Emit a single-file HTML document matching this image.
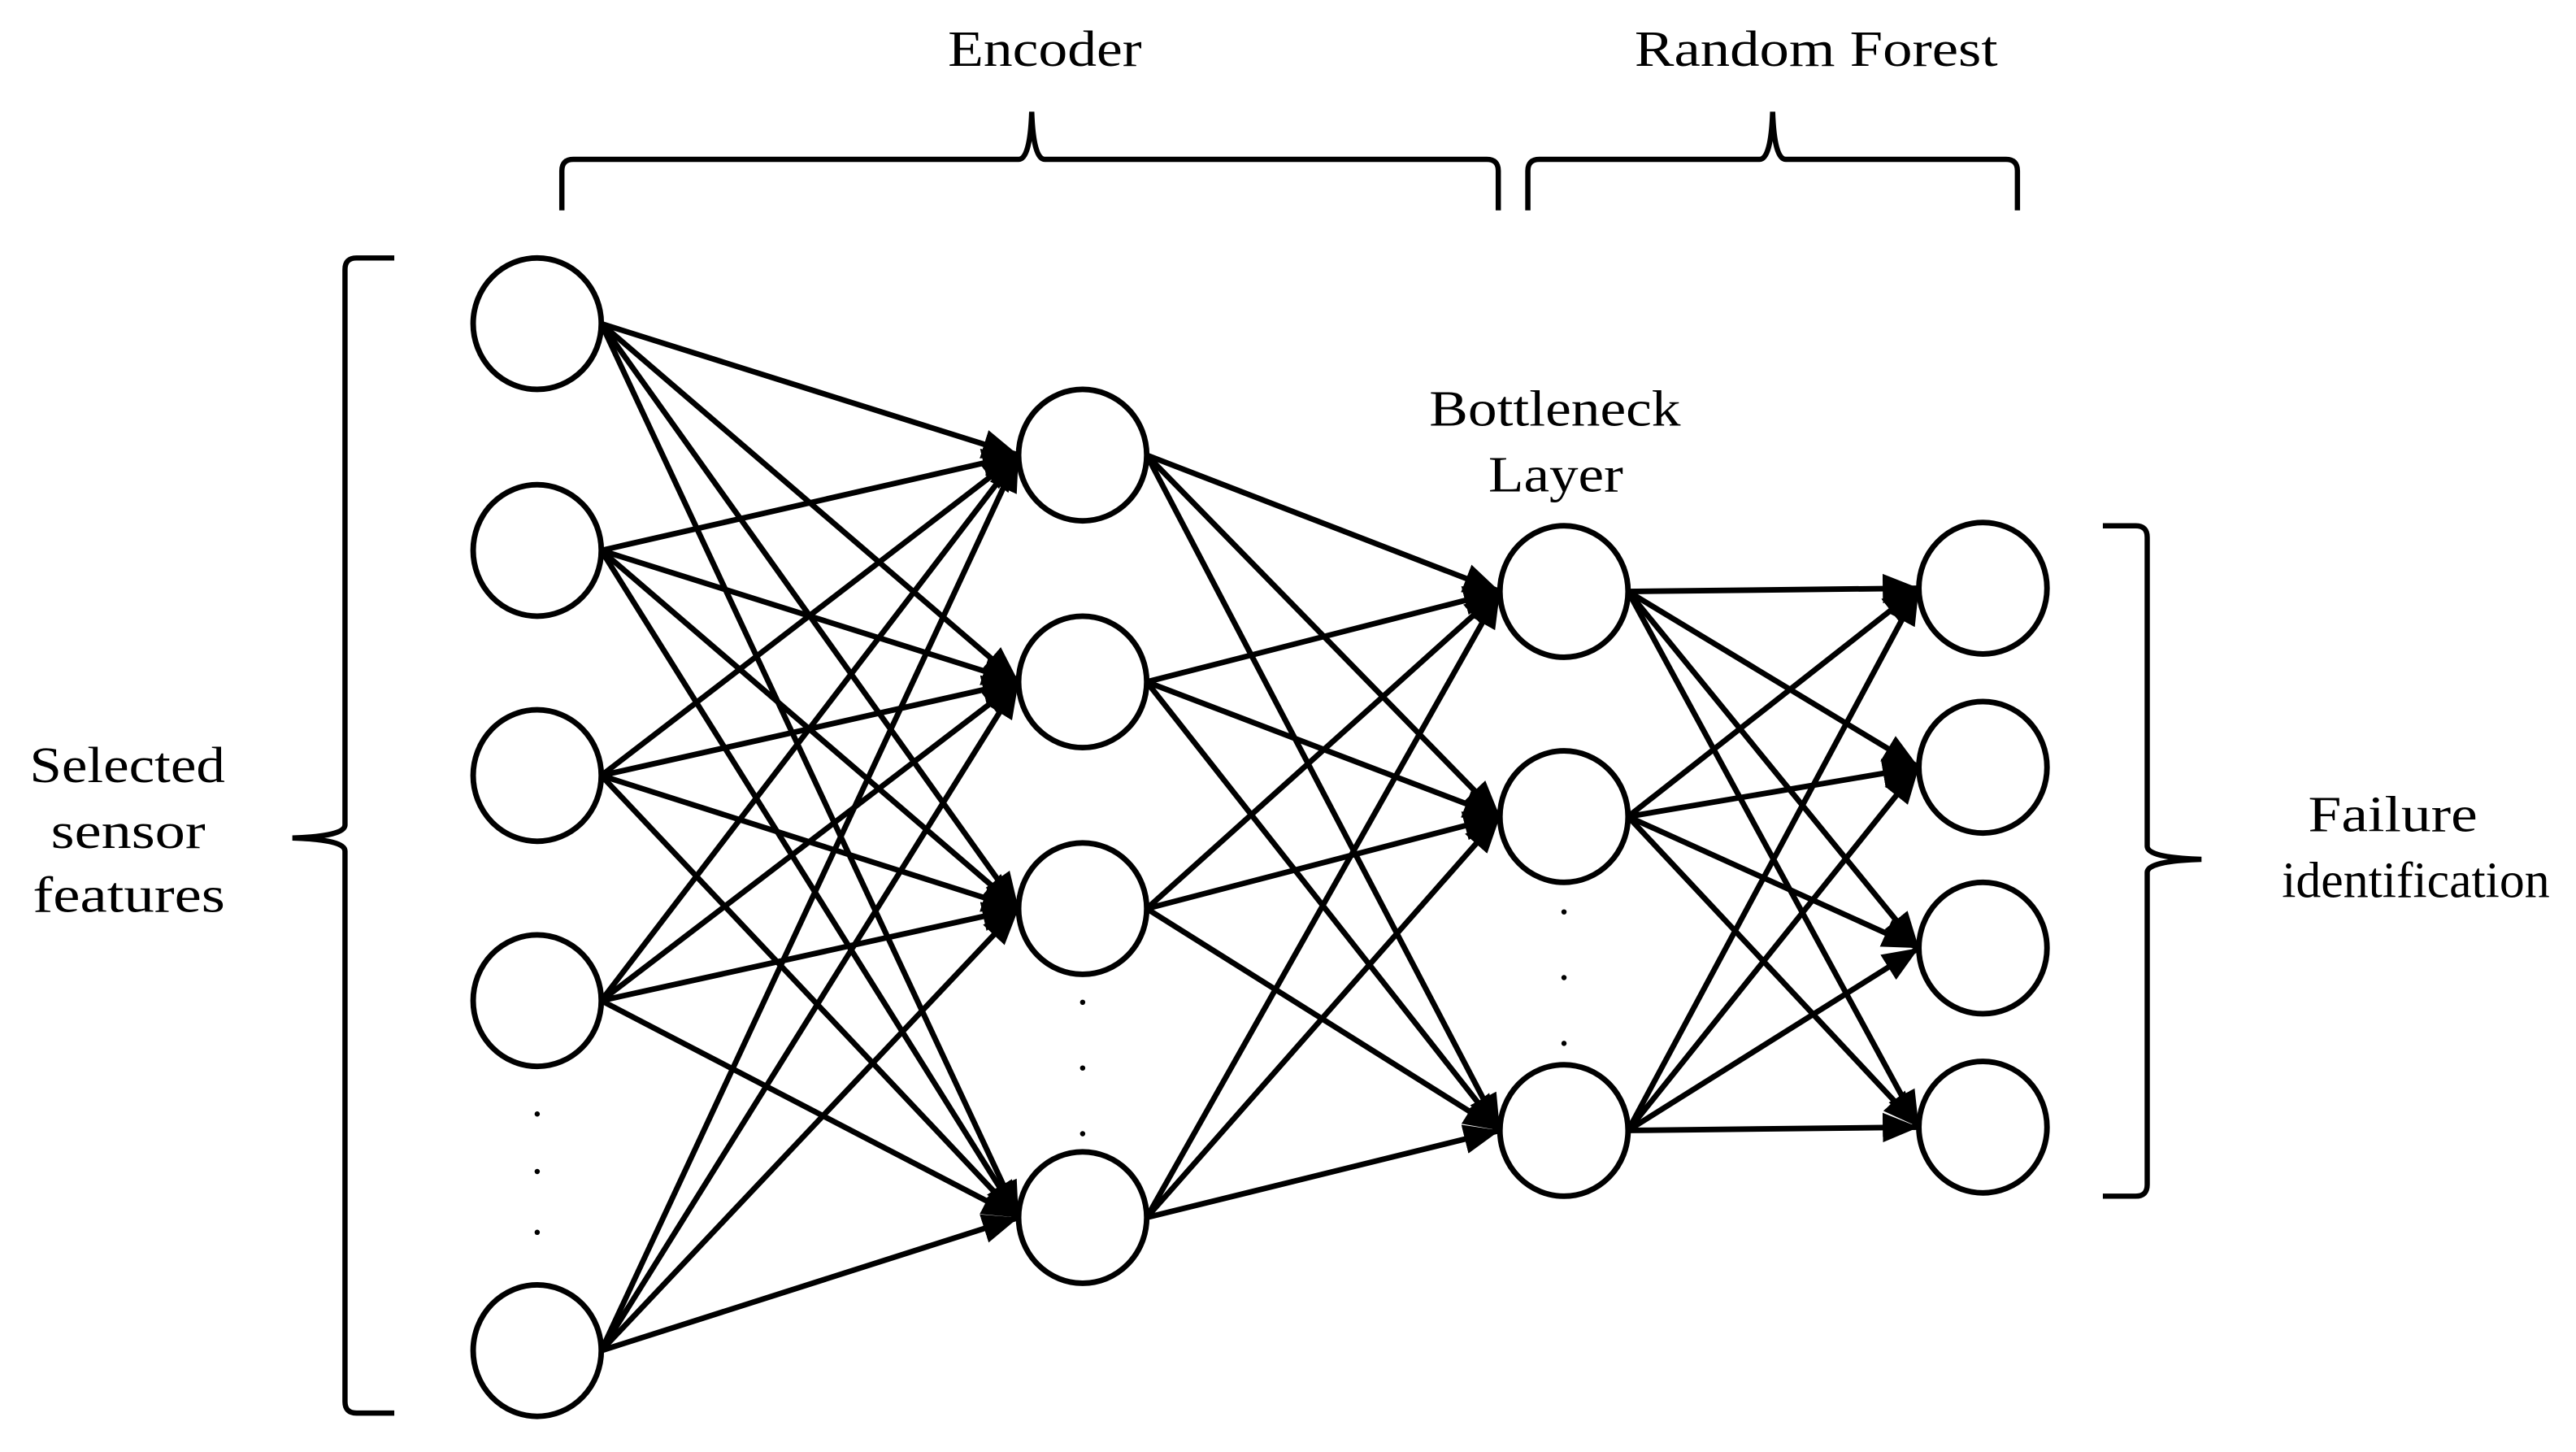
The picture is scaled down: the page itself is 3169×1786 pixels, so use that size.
<!DOCTYPE html>
<html><head><meta charset="utf-8"><style>
html,body{margin:0;padding:0;background:#fff;}
svg{display:block;}
text{font-family:"Liberation Serif",serif;font-size:31px;fill:#000;}
</style></head><body>
<svg width="3169" height="1786" viewBox="0 0 1568 883.7" preserveAspectRatio="none" xmlns="http://www.w3.org/2000/svg">
<defs>
<marker id="a" markerUnits="userSpaceOnUse" markerWidth="24" markerHeight="18" refX="22" refY="9" orient="auto">
<path d="M0,0 L22,9 L0,18 Z" fill="#000"/>
</marker>
</defs>
<g stroke="#000" stroke-width="3.4" fill="none" marker-end="url(#a)">
<line x1="366" y1="197" x2="620" y2="277"/><line x1="366" y1="197" x2="620" y2="415"/><line x1="366" y1="197" x2="620" y2="553"/><line x1="366" y1="197" x2="620" y2="741"/>
<line x1="366" y1="335" x2="620" y2="277"/><line x1="366" y1="335" x2="620" y2="415"/><line x1="366" y1="335" x2="620" y2="553"/><line x1="366" y1="335" x2="620" y2="741"/>
<line x1="366" y1="472" x2="620" y2="277"/><line x1="366" y1="472" x2="620" y2="415"/><line x1="366" y1="472" x2="620" y2="553"/><line x1="366" y1="472" x2="620" y2="741"/>
<line x1="366" y1="609" x2="620" y2="277"/><line x1="366" y1="609" x2="620" y2="415"/><line x1="366" y1="609" x2="620" y2="553"/><line x1="366" y1="609" x2="620" y2="741"/>
<line x1="366" y1="822" x2="620" y2="277"/><line x1="366" y1="822" x2="620" y2="415"/><line x1="366" y1="822" x2="620" y2="553"/><line x1="366" y1="822" x2="620" y2="741"/>
<line x1="698" y1="277" x2="913" y2="360"/><line x1="698" y1="277" x2="913" y2="497"/><line x1="698" y1="277" x2="913" y2="688"/>
<line x1="698" y1="415" x2="913" y2="360"/><line x1="698" y1="415" x2="913" y2="497"/><line x1="698" y1="415" x2="913" y2="688"/>
<line x1="698" y1="553" x2="913" y2="360"/><line x1="698" y1="553" x2="913" y2="497"/><line x1="698" y1="553" x2="913" y2="688"/>
<line x1="698" y1="741" x2="913" y2="360"/><line x1="698" y1="741" x2="913" y2="497"/><line x1="698" y1="741" x2="913" y2="688"/>
<line x1="991" y1="360" x2="1168" y2="358"/><line x1="991" y1="360" x2="1168" y2="467"/><line x1="991" y1="360" x2="1168" y2="577"/><line x1="991" y1="360" x2="1168" y2="686"/>
<line x1="991" y1="497" x2="1168" y2="358"/><line x1="991" y1="497" x2="1168" y2="467"/><line x1="991" y1="497" x2="1168" y2="577"/><line x1="991" y1="497" x2="1168" y2="686"/>
<line x1="991" y1="688" x2="1168" y2="358"/><line x1="991" y1="688" x2="1168" y2="467"/><line x1="991" y1="688" x2="1168" y2="577"/><line x1="991" y1="688" x2="1168" y2="686"/>
</g>
<g stroke="#000" stroke-width="3.4" fill="#fff">
<ellipse cx="327" cy="197" rx="39" ry="40"/><ellipse cx="327" cy="335" rx="39" ry="40"/><ellipse cx="327" cy="472" rx="39" ry="40"/><ellipse cx="327" cy="609" rx="39" ry="40"/><ellipse cx="327" cy="822" rx="39" ry="40"/>
<ellipse cx="659" cy="277" rx="39" ry="40"/><ellipse cx="659" cy="415" rx="39" ry="40"/><ellipse cx="659" cy="553" rx="39" ry="40"/><ellipse cx="659" cy="741" rx="39" ry="40"/>
<ellipse cx="952" cy="360" rx="39" ry="40"/><ellipse cx="952" cy="497" rx="39" ry="40"/><ellipse cx="952" cy="688" rx="39" ry="40"/>
<ellipse cx="1207" cy="358" rx="39" ry="40"/><ellipse cx="1207" cy="467" rx="39" ry="40"/><ellipse cx="1207" cy="577" rx="39" ry="40"/><ellipse cx="1207" cy="686" rx="39" ry="40"/>
</g>
<g fill="#000">
<circle cx="327" cy="678" r="1.6"/><circle cx="327" cy="713" r="1.6"/><circle cx="327" cy="750" r="1.6"/>
<circle cx="659" cy="610" r="1.6"/><circle cx="659" cy="650" r="1.6"/><circle cx="659" cy="690" r="1.6"/>
<circle cx="952" cy="555" r="1.6"/><circle cx="952" cy="595" r="1.6"/><circle cx="952" cy="635" r="1.6"/>
</g>
<g stroke="#000" stroke-width="3.2" fill="none">
<path d="M342,128 L342,104 Q342,97 349,97 L620,97 Q627,97 628,68 Q629,97 636,97 L905,97 Q912,97 912,104 L912,128"/>
<path d="M930,128 L930,104 Q930,97 937,97 L1071,97 Q1078,97 1079,68 Q1080,97 1087,97 L1221,97 Q1228,97 1228,104 L1228,128"/>
<path d="M240,157 L217,157 Q210,157 210,164 L210,502 Q210,509 178,510 Q210,511 210,518 L210,853 Q210,860 217,860 L240,860"/>
<path d="M1280,320 L1300,320 Q1307,320 1307,327 L1307,515 Q1307,522 1340,523 Q1307,524 1307,531 L1307,721 Q1307,728 1300,728 L1280,728"/>
</g>
<g>
<text x="577" y="40" textLength="118" lengthAdjust="spacingAndGlyphs">Encoder</text>
<text x="995" y="40" textLength="221" lengthAdjust="spacingAndGlyphs">Random Forest</text>
<text x="870" y="259" textLength="153" lengthAdjust="spacingAndGlyphs">Bottleneck</text>
<text x="906" y="299" textLength="82" lengthAdjust="spacingAndGlyphs">Layer</text>
<text x="18" y="476" textLength="119" lengthAdjust="spacingAndGlyphs">Selected</text>
<text x="31" y="516" textLength="94" lengthAdjust="spacingAndGlyphs">sensor</text>
<text x="20" y="555" textLength="117" lengthAdjust="spacingAndGlyphs">features</text>
<text x="1405" y="506" textLength="103" lengthAdjust="spacingAndGlyphs">Failure</text>
<text x="1389" y="546" textLength="163" lengthAdjust="spacingAndGlyphs">identification</text>
</g>
</svg>
</body></html>
